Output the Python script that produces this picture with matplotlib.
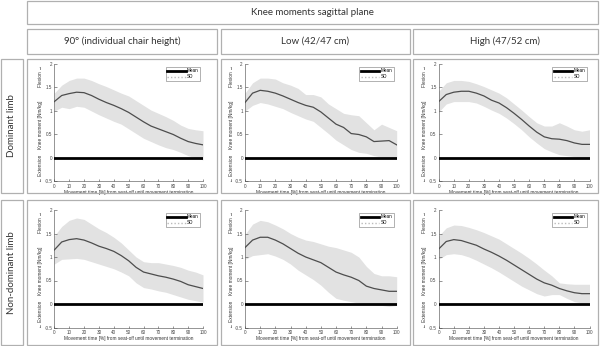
import matplotlib
matplotlib.use("Agg")
import matplotlib.pyplot as plt
from matplotlib.patches import Rectangle
from matplotlib.lines import Line2D
import numpy as np

W, H = 600, 346

title = "Knee moments sagittal plane"
col_titles = ["90° (individual chair height)", "Low (42/47 cm)", "High (47/52 cm)"]
row_titles = ["Dominant limb", "Non-dominant limb"]
xlabel = "Movement time [%] from seat-off until movement termination"
ylabel_mid = "Knee moment [Nm/kg]"
ylabel_top = "Flexion →"
ylabel_bot = "← Extension"
legend_labels = ["Mean", "SD"]

t = [0, 5, 10, 15, 20, 25, 30, 35, 40, 45, 50, 55, 60, 65, 70, 75, 80, 85, 90, 95, 100]
yticks = [-0.5, 0, 0.5, 1, 1.5, 2]
ytick_labels = ["-0.5", "0", "0.5", "1", "1.5", "2"]
xticks = [0, 10, 20, 30, 40, 50, 60, 70, 80, 90, 100]

# Dominant limb
dom_90_mean = [1.20, 1.33, 1.37, 1.40, 1.39, 1.33, 1.25, 1.18, 1.12, 1.05, 0.97, 0.87, 0.77, 0.68, 0.62, 0.56, 0.50, 0.42, 0.35, 0.31, 0.28]
dom_90_up   = [1.38, 1.55, 1.65, 1.70, 1.70, 1.65, 1.58, 1.52, 1.45, 1.38, 1.32, 1.22, 1.12, 1.02, 0.95, 0.88, 0.80, 0.70, 0.63, 0.60, 0.58]
dom_90_lo   = [1.00, 1.08, 1.05, 1.10, 1.08, 1.00, 0.92, 0.85, 0.78, 0.72, 0.62, 0.52, 0.42, 0.35, 0.28, 0.22, 0.18, 0.12, 0.05, 0.00, -0.04]

dom_low_mean = [1.18, 1.38, 1.44, 1.42, 1.38, 1.32, 1.25, 1.18, 1.12, 1.08, 0.98, 0.85, 0.72, 0.65, 0.52, 0.50, 0.45, 0.35, 0.36, 0.37, 0.28]
dom_low_up   = [1.38, 1.60, 1.70, 1.70, 1.68, 1.60, 1.55, 1.48, 1.35, 1.35, 1.30, 1.15, 1.05, 0.95, 0.92, 0.90, 0.75, 0.60, 0.72, 0.65, 0.58]
dom_low_lo   = [1.00, 1.12, 1.18, 1.15, 1.10, 1.05, 0.97, 0.90, 0.83, 0.78, 0.65, 0.52, 0.38, 0.28, 0.18, 0.12, 0.10, 0.05, 0.02, 0.02, 0.00]

dom_high_mean = [1.20, 1.35, 1.40, 1.42, 1.42, 1.38, 1.32, 1.23, 1.17, 1.07, 0.95, 0.82, 0.68, 0.55, 0.45, 0.41, 0.40, 0.37, 0.32, 0.29, 0.29]
dom_high_up   = [1.42, 1.60, 1.65, 1.65, 1.63, 1.58, 1.52, 1.45, 1.38, 1.28, 1.15, 1.02, 0.88, 0.75, 0.68, 0.68, 0.75, 0.68, 0.60, 0.57, 0.60]
dom_high_lo   = [0.98, 1.15, 1.20, 1.20, 1.20, 1.17, 1.10, 1.02, 0.95, 0.85, 0.73, 0.60, 0.45, 0.32, 0.20, 0.13, 0.07, 0.05, 0.03, 0.00, 0.00]

# Non-dominant limb
nd_90_mean = [1.15, 1.32, 1.37, 1.39, 1.36, 1.30, 1.23, 1.18, 1.12, 1.03, 0.92, 0.78, 0.68, 0.64, 0.60, 0.57, 0.53, 0.48, 0.41, 0.37, 0.33]
nd_90_up   = [1.45, 1.65, 1.78, 1.83, 1.80, 1.70, 1.60, 1.52, 1.42, 1.30, 1.15, 1.00, 0.90, 0.88, 0.88, 0.85, 0.82, 0.78, 0.72, 0.68, 0.62]
nd_90_lo   = [0.85, 0.95, 0.96, 0.97, 0.95, 0.90, 0.85, 0.80, 0.75, 0.68, 0.60, 0.45, 0.35, 0.32, 0.28, 0.25, 0.20, 0.15, 0.10, 0.07, 0.04]

nd_low_mean = [1.20, 1.36, 1.42, 1.42, 1.36, 1.28, 1.18, 1.08, 1.00, 0.94, 0.88, 0.78, 0.68, 0.62, 0.57, 0.50, 0.38, 0.33, 0.30, 0.27, 0.27]
nd_low_up   = [1.48, 1.70, 1.78, 1.75, 1.68, 1.60, 1.50, 1.42, 1.36, 1.33, 1.28, 1.23, 1.20, 1.15, 1.10, 1.00, 0.80, 0.65, 0.60, 0.60, 0.58]
nd_low_lo   = [0.95, 1.03, 1.05, 1.07, 1.02, 0.95, 0.85, 0.72, 0.62, 0.52, 0.40, 0.25, 0.12, 0.08, 0.05, 0.02, 0.00, -0.02, -0.03, -0.05, -0.03]

nd_high_mean = [1.17, 1.33, 1.37, 1.35, 1.30, 1.25, 1.17, 1.10, 1.02, 0.93, 0.83, 0.73, 0.63, 0.53, 0.45, 0.40, 0.33, 0.28, 0.24, 0.22, 0.22]
nd_high_up   = [1.45, 1.62, 1.68, 1.67, 1.63, 1.58, 1.52, 1.45, 1.38, 1.28, 1.18, 1.08, 0.97, 0.85, 0.72, 0.60, 0.45, 0.43, 0.42, 0.42, 0.42]
nd_high_lo   = [0.95, 1.05, 1.07, 1.05, 1.00, 0.93, 0.85, 0.77, 0.68, 0.58, 0.48, 0.38, 0.30, 0.22, 0.17, 0.20, 0.20, 0.12, 0.05, 0.02, 0.03]

panels = [
    [(dom_90_mean, dom_90_up, dom_90_lo), (dom_low_mean, dom_low_up, dom_low_lo), (dom_high_mean, dom_high_up, dom_high_lo)],
    [(nd_90_mean, nd_90_up, nd_90_lo), (nd_low_mean, nd_low_up, nd_low_lo), (nd_high_mean, nd_high_up, nd_high_lo)],
]

HEAD_FONT = ["Lato", "DejaVu Sans"]
SMALL_FONT = ["Liberation Sans", "DejaVu Sans"]
BOX_EC = "#b0b0b0"
TXT = "#333333"

fig = plt.figure(figsize=(W / 100, H / 100), dpi=100)


def fbox(x0, y0, x1, y1):
    # pixel box (top-left origin) -> figure fraction rect
    return (x0 / W, 1 - y1 / H, (x1 - x0) / W, (y1 - y0) / H)


def draw_box(x0, y0, x1, y1):
    l, b, w, h = fbox(x0, y0, x1, y1)
    fig.patches.append(Rectangle((l, b), w, h, transform=fig.transFigure,
                                 fill=False, ec=BOX_EC, lw=0.9))


# Title box
draw_box(27, 1, 598, 24)
fig.text((27 + 598) / 2 / W, 1 - 12.5 / H, title, ha="center", va="center",
         fontsize=7.0, family=HEAD_FONT, color=TXT)

col_x = [(27, 217), (221, 410), (413, 598)]
for (x0, x1), ct in zip(col_x, col_titles):
    draw_box(x0, 29, x1, 54)
    fig.text((x0 + x1) / 2 / W, 1 - 41.5 / H, ct, ha="center", va="center",
             fontsize=7.0, family=HEAD_FONT, color=TXT)

row_y = [(59, 193), (200, 345)]
for (y0, y1), rt in zip(row_y, row_titles):
    draw_box(1, y0, 23, y1)
    fig.text(12 / W, 1 - (y0 + y1) / 2 / H, rt, ha="center", va="center",
             rotation=90, fontsize=7.0, family=HEAD_FONT, color=TXT)
    for (x0, x1) in col_x:
        draw_box(x0, y0, x1, y1)

ax_x = [(54.3, 203), (245, 396.7), (438.7, 589.5)]
ax_y = [(64, 181.5), (210, 327.5)]

for r in range(2):
    for c in range(3):
        mean, up, lo = panels[r][c]
        x0, x1 = ax_x[c]
        y0, y1 = ax_y[r]
        ax = fig.add_axes(fbox(x0, y0, x1, y1))
        ax.fill_between(t, lo, up, color="#e2e2e2", lw=0)
        ax.axhline(0, color="black", lw=2.0, zorder=3)
        ax.plot(t, mean, color="#4d4d4d", lw=0.9, zorder=4)
        ax.set_xlim(0, 100)
        ax.set_ylim(-0.5, 2)
        ax.set_xticks(xticks)
        ax.set_yticks(yticks)
        ax.set_yticklabels(ytick_labels)
        for s in ["top", "right"]:
            ax.spines[s].set_visible(False)
        for s in ["left", "bottom"]:
            ax.spines[s].set_linewidth(0.4)
            ax.spines[s].set_color("#444444")
        ax.tick_params(direction="in", length=1.8, width=0.4, labelsize=3.3,
                       pad=1.5, colors="#444444")
        for lab in ax.get_xticklabels() + ax.get_yticklabels():
            lab.set_family(SMALL_FONT)
        ax.set_xlabel(xlabel, fontsize=3.4, family=SMALL_FONT, color="#333333",
                      labelpad=1.2)
        ytr = ax.get_yaxis_transform()
        xpos = -0.092
        ax.text(xpos, 1.75, ylabel_top, transform=ytr, rotation=90, ha="center",
                va="center", fontsize=3.4, family=SMALL_FONT, color="#333333")
        ax.text(xpos, 0.7, ylabel_mid, transform=ytr, rotation=90, ha="center",
                va="center", fontsize=3.4, family=SMALL_FONT, color="#333333")
        ax.text(xpos, -0.22, ylabel_bot, transform=ytr, rotation=90, ha="center",
                va="center", fontsize=3.4, family=SMALL_FONT, color="#333333")
        handles = [Line2D([], [], color="black", lw=2.0),
                   Line2D([], [], color="#bbbbbb", lw=1.0, ls=(0, (1, 1.5)))]
        leg = ax.legend(handles, legend_labels, loc="upper right",
                        frameon=True, fancybox=False,
                        handlelength=4.0, handletextpad=0.3, borderpad=0.35,
                        labelspacing=0.2, borderaxespad=0.6,
                        prop={"family": SMALL_FONT, "size": 3.3})
        leg.get_frame().set_edgecolor("#555555")
        leg.get_frame().set_linewidth(0.4)

fig.savefig("out.png", dpi=100)
